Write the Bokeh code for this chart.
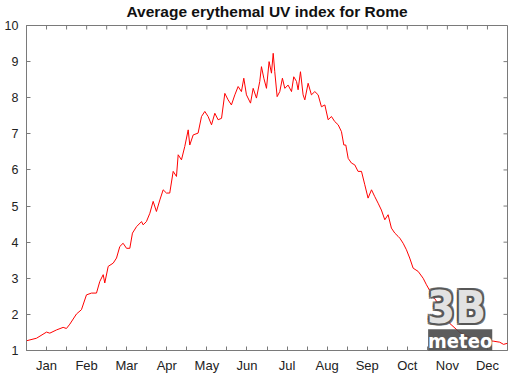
import math
from bokeh.plotting import figure
from bokeh.models import FixedTicker, Range1d, Label, ColumnDataSource
from bokeh.embed import file_html
from bokeh.resources import INLINE

# ---- data (day of year, UV index) ----
months = ["Jan", "Feb", "Mar", "Apr", "May", "Jun",
          "Jul", "Aug", "Sep", "Oct", "Nov", "Dec"]
days = [0.0, 7.6, 15.2, 17.7, 22.8, 27.8, 30.3, 32.9, 37.9, 41.7, 45.5, 49.3,
        53.1, 55.6, 58.2, 59.4, 62.0, 65.8, 68.3, 70.8, 73.3, 75.9, 78.4, 80.4,
        83.5, 87.3, 88.5, 91.0, 93.6, 96.1, 98.6, 101.2, 103.7, 106.2, 108.7,
        111.3, 113.8, 115.1, 117.6, 120.1, 122.7, 123.9, 126.5, 130.2, 132.8,
        135.3, 137.8, 140.4, 142.9, 145.4, 148.0, 150.5, 153.0, 155.5, 158.1,
        160.6, 163.1, 164.9, 166.9, 170.0, 172.0, 174.5, 177.0, 178.3, 180.1,
        182.1, 184.1, 185.9, 187.2, 188.4, 190.2, 192.2, 194.2, 196.0, 198.5,
        201.1, 202.8, 204.9, 206.1, 207.9, 209.9, 211.2, 213.7, 216.2, 218.8,
        221.3, 223.8, 226.4, 228.9, 231.4, 233.9, 236.5, 239.0, 240.8, 242.3,
        244.1, 246.6, 249.1, 251.6, 254.2, 256.7, 259.2, 261.8, 264.3, 266.8,
        269.3, 271.9, 274.4, 276.9, 279.5, 282.0, 283.3, 285.8, 288.3, 290.8,
        293.4, 297.2, 301.0, 303.5, 306.0, 309.5, 314.9, 321.2, 328.8, 336.4,
        340.2, 347.7, 354.1, 359.1, 362.0, 365.0]
uv = [1.27, 1.34, 1.51, 1.48, 1.57, 1.64, 1.61, 1.73, 2.01, 2.13, 2.54, 2.59,
      2.59, 2.91, 3.10, 2.87, 3.33, 3.42, 3.56, 3.88, 3.97, 3.83, 3.83, 4.25,
      4.43, 4.57, 4.48, 4.57, 4.80, 5.13, 4.85, 5.17, 5.45, 5.36, 5.36,
      5.96, 5.82, 6.42, 6.28, 6.65, 7.11, 6.69, 6.97, 7.02, 7.48,
      7.62, 7.48, 7.25, 7.57, 7.39, 7.43, 8.12, 7.94, 7.80, 8.08,
      8.31, 8.17, 8.54, 8.08, 7.85, 8.26, 7.99, 8.45, 8.86, 8.54,
      8.26, 9.00, 8.68, 9.23, 8.72, 8.03, 8.17, 8.54, 8.26, 8.35,
      8.17, 8.58, 8.45, 8.22, 8.72, 8.08, 7.94, 8.40, 8.08, 8.17,
      8.08, 7.75, 7.80, 7.39, 7.48, 7.34, 7.25, 7.06, 6.69, 6.69,
      6.32, 6.19, 6.14, 5.96, 5.96, 5.59, 5.22, 5.45, 5.26, 5.08,
      4.89, 4.62, 4.76, 4.39, 4.25, 4.16, 4.11, 3.97, 3.79, 3.56,
      3.28, 3.19, 3.00, 2.82, 2.66, 2.45, 2.16, 1.75, 1.50, 1.36,
      1.33, 1.28, 1.26, 1.23, 1.17, 1.20]
y_ticks = [1, 2, 3, 4, 5, 6, 7, 8, 9, 10]
title = "Average erythemal UV index for Rome"

YEAR = 365.0
mids = [(i + 0.5) * YEAR / 12 for i in range(12)]
bounds = [i * YEAR / 12 for i in range(1, 12)]

AX = "#7a7a7a"
LAB = "#222222"
FONT = "Liberation Sans"

p = figure(width=510, height=376, output_backend="svg", toolbar_location=None,
           x_range=Range1d(0, YEAR), y_range=Range1d(y_ticks[0], y_ticks[-1]),
           min_border_left=26, min_border_right=3, min_border_top=25,
           min_border_bottom=26, title=title)
p.title.align = "center"
p.title.text_font = FONT
p.title.text_font_size = "15.5px"
p.title.text_font_style = "bold"
p.title.text_color = "#111111"
p.title.standoff = 0
p.title.padding = dict(left=0, right=0, top=0, bottom=6)
p.grid.visible = False
p.outline_line_color = AX
p.background_fill_color = "white"
p.border_fill_color = "white"

xt = FixedTicker(ticks=mids, minor_ticks=bounds)
yt = FixedTicker(ticks=y_ticks, minor_ticks=[])

def style(ax, size):
    ax.axis_line_color = AX
    ax.major_tick_line_color = AX
    ax.minor_tick_line_color = AX
    ax.major_tick_in = 4
    ax.major_tick_out = 0
    ax.minor_tick_in = 4
    ax.minor_tick_out = 0
    ax.major_label_text_font = FONT
    ax.major_label_text_font_size = size
    ax.major_label_text_color = LAB

xa = p.xaxis[0]
xa.ticker = xt
xa.major_label_overrides = {m: n for m, n in zip(mids, months)}
style(xa, "13px")
xa.major_label_standoff = 7

ya = p.yaxis[0]
ya.ticker = yt
style(ya, "12.5px")
ya.major_label_standoff = 8

# inward ticks on the top and right frame edges (half outside is clipped)
top_x = mids + bounds
p.dash(x=top_x, y=[y_ticks[-1]] * len(top_x), size=8, angle=math.pi / 2,
       line_color=AX, line_width=1)
p.dash(x=[YEAR] * len(y_ticks), y=y_ticks, size=8, line_color=AX, line_width=1)

src = ColumnDataSource(data=dict(day=days, uv=uv))
p.line("day", "uv", source=src, line_color="#ff0000", line_width=1)

# 3B meteo watermark
LOGO_X, LOGO_Y = 304, 2.2
for dx, dy in [(-2, 0), (2, 0), (0, -2), (0, 2), (-2, -2), (2, 2), (-2, 2), (2, -2)]:
    p.add_layout(Label(x=LOGO_X, y=LOGO_Y, x_offset=dx, y_offset=dy, text="3B",
                       text_font="DejaVu Sans Condensed", text_font_style="bold",
                       text_font_size="45px", text_color="#555555",
                       text_alpha=0.8, text_baseline="alphabetic"))
p.add_layout(Label(x=LOGO_X, y=LOGO_Y, text="3B",
                   text_font="DejaVu Sans Condensed", text_font_style="bold",
                   text_font_size="45px", text_color="#e2e2e2",
                   text_baseline="alphabetic"))
p.add_layout(Label(x=LOGO_X, y=LOGO_Y, x_offset=1, y_offset=-34, text="meteo",
                   text_font="DejaVu Sans Condensed", text_font_style="bold",
                   text_font_size="20px", text_color="white",
                   text_baseline="alphabetic",
                   background_fill_color="#4a4a4a", background_fill_alpha=0.9))

open("out.html", "w").write(file_html(p, INLINE))
